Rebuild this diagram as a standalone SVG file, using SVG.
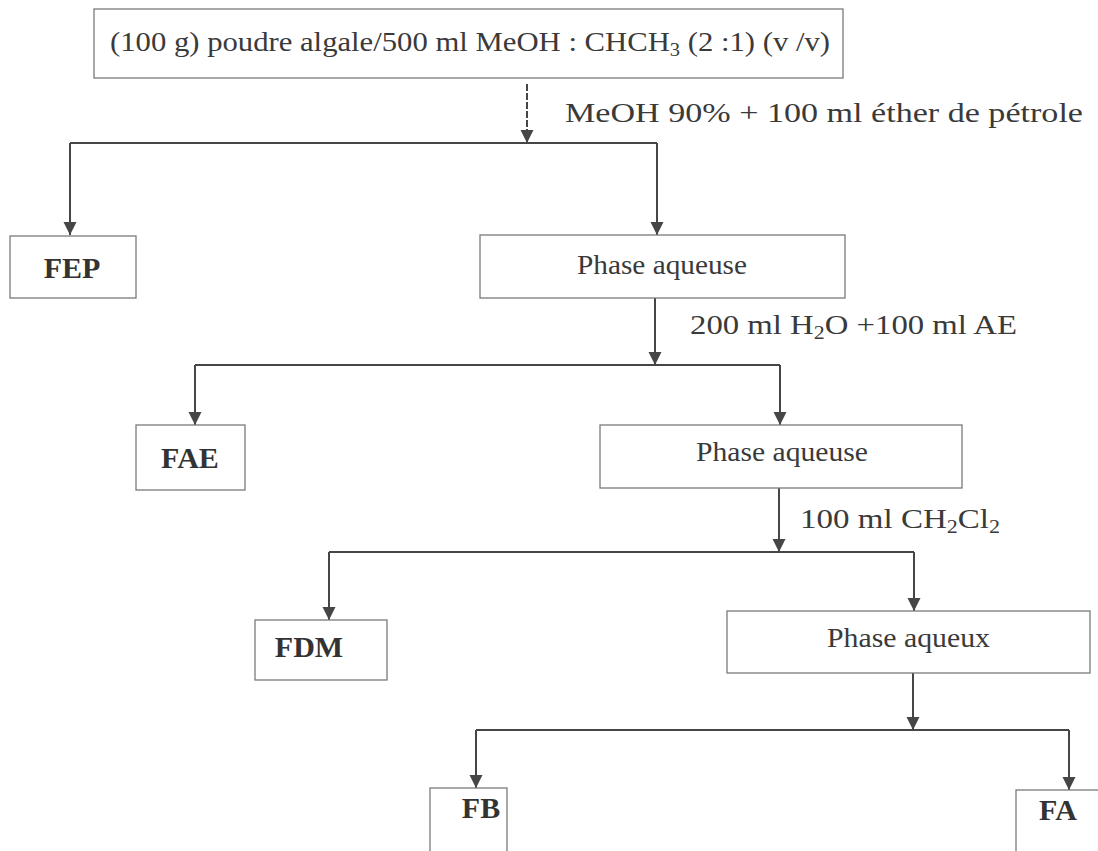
<svg xmlns="http://www.w3.org/2000/svg" width="1098" height="851" viewBox="0 0 1098 851">
<style>
.box{fill:#fff;stroke:#7a7a7a;stroke-width:1.3}
.t{font-family:"Liberation Serif","Times New Roman",serif;font-size:27px;fill:#3a3a3a}
.b{font-weight:bold;text-anchor:middle;font-size:30px;fill:#333}
.c{fill:none;stroke:#464646;stroke-width:2}
</style>
<defs>
<marker id="ah" viewBox="0 0 10 10" refX="10" refY="5" markerWidth="13" markerHeight="15" markerUnits="userSpaceOnUse" orient="auto">
<path d="M0,0 L10,5 L0,10 z" fill="#464646"/>
</marker>
</defs>
<rect width="1098" height="851" fill="#fff"/>
<g id="connectors">
<line class="c" x1="527" y1="84" x2="527" y2="143" marker-end="url(#ah)" stroke="#5a5a5a" stroke-width="1.6" stroke-dasharray="7 2"/>
<polyline class="c" points="70,143 657,143"/>
<line class="c" x1="70" y1="143" x2="70" y2="235" marker-end="url(#ah)"/>
<line class="c" x1="657" y1="143" x2="657" y2="235" marker-end="url(#ah)"/>
<line class="c" x1="655" y1="298" x2="655" y2="365" marker-end="url(#ah)"/>
<polyline class="c" points="195,365 780,365"/>
<line class="c" x1="195" y1="365" x2="195" y2="425" marker-end="url(#ah)"/>
<line class="c" x1="780" y1="365" x2="780" y2="425" marker-end="url(#ah)"/>
<line class="c" x1="779" y1="488" x2="779" y2="552" marker-end="url(#ah)"/>
<polyline class="c" points="329,552 914,552"/>
<line class="c" x1="329" y1="552" x2="329" y2="620" marker-end="url(#ah)"/>
<line class="c" x1="914" y1="552" x2="914" y2="611" marker-end="url(#ah)"/>
<line class="c" x1="913" y1="673" x2="913" y2="730" marker-end="url(#ah)"/>
<polyline class="c" points="476,730 1069,730"/>
<line class="c" x1="476" y1="730" x2="476" y2="788" marker-end="url(#ah)"/>
<line class="c" x1="1069" y1="730" x2="1069" y2="790" marker-end="url(#ah)"/>
<text class="t" x="565" y="122" textLength="518" lengthAdjust="spacingAndGlyphs">MeOH 90% + 100 ml éther de pétrole</text>
<text class="t" x="690" y="334" textLength="327" lengthAdjust="spacingAndGlyphs">200 ml H<tspan font-size="18" dy="5">2</tspan><tspan dy="-5">O +100 ml AE</tspan></text>
<text class="t" x="800" y="528" textLength="200" lengthAdjust="spacingAndGlyphs">100 ml CH<tspan font-size="18" dy="5">2</tspan><tspan dy="-5">Cl</tspan><tspan font-size="18" dy="5">2</tspan></text>
</g>
<g id="start">
<rect class="box" x="94" y="9" width="749" height="69"/>
<text class="t" x="110" y="51" textLength="720" lengthAdjust="spacingAndGlyphs">(100 g) poudre algale/500 ml MeOH : CHCH<tspan font-size="18" dy="5">3</tspan><tspan dy="-5"> (2 :1) (v /v)</tspan></text>
</g>
<g id="fep">
<rect class="box" x="10" y="236" width="126" height="62"/>
<text class="t b" x="72" y="278">FEP</text>
</g>
<g id="phase1">
<rect class="box" x="480" y="235" width="365" height="63"/>
<text class="t" x="577" y="274" textLength="170" lengthAdjust="spacingAndGlyphs">Phase aqueuse</text>
</g>
<g id="fae">
<rect class="box" x="136" y="425" width="109" height="65"/>
<text class="t b" x="190" y="468">FAE</text>
</g>
<g id="phase2">
<rect class="box" x="600" y="425" width="362" height="63"/>
<text class="t" x="696" y="461" textLength="172" lengthAdjust="spacingAndGlyphs">Phase aqueuse</text>
</g>
<g id="fdm">
<rect class="box" x="255" y="620" width="132" height="60"/>
<text class="t b" x="309" y="657">FDM</text>
</g>
<g id="phase3">
<rect class="box" x="727" y="611" width="363" height="62"/>
<text class="t" x="827" y="647" textLength="163" lengthAdjust="spacingAndGlyphs">Phase aqueux</text>
</g>
<g id="fb">
<rect class="box" x="430" y="788" width="77" height="70"/>
<text class="t b" x="481" y="818">FB</text>
</g>
<g id="fa">
<rect class="box" x="1016" y="790" width="90" height="70"/>
<text class="t b" x="1058" y="820">FA</text>
</g>
</svg>
